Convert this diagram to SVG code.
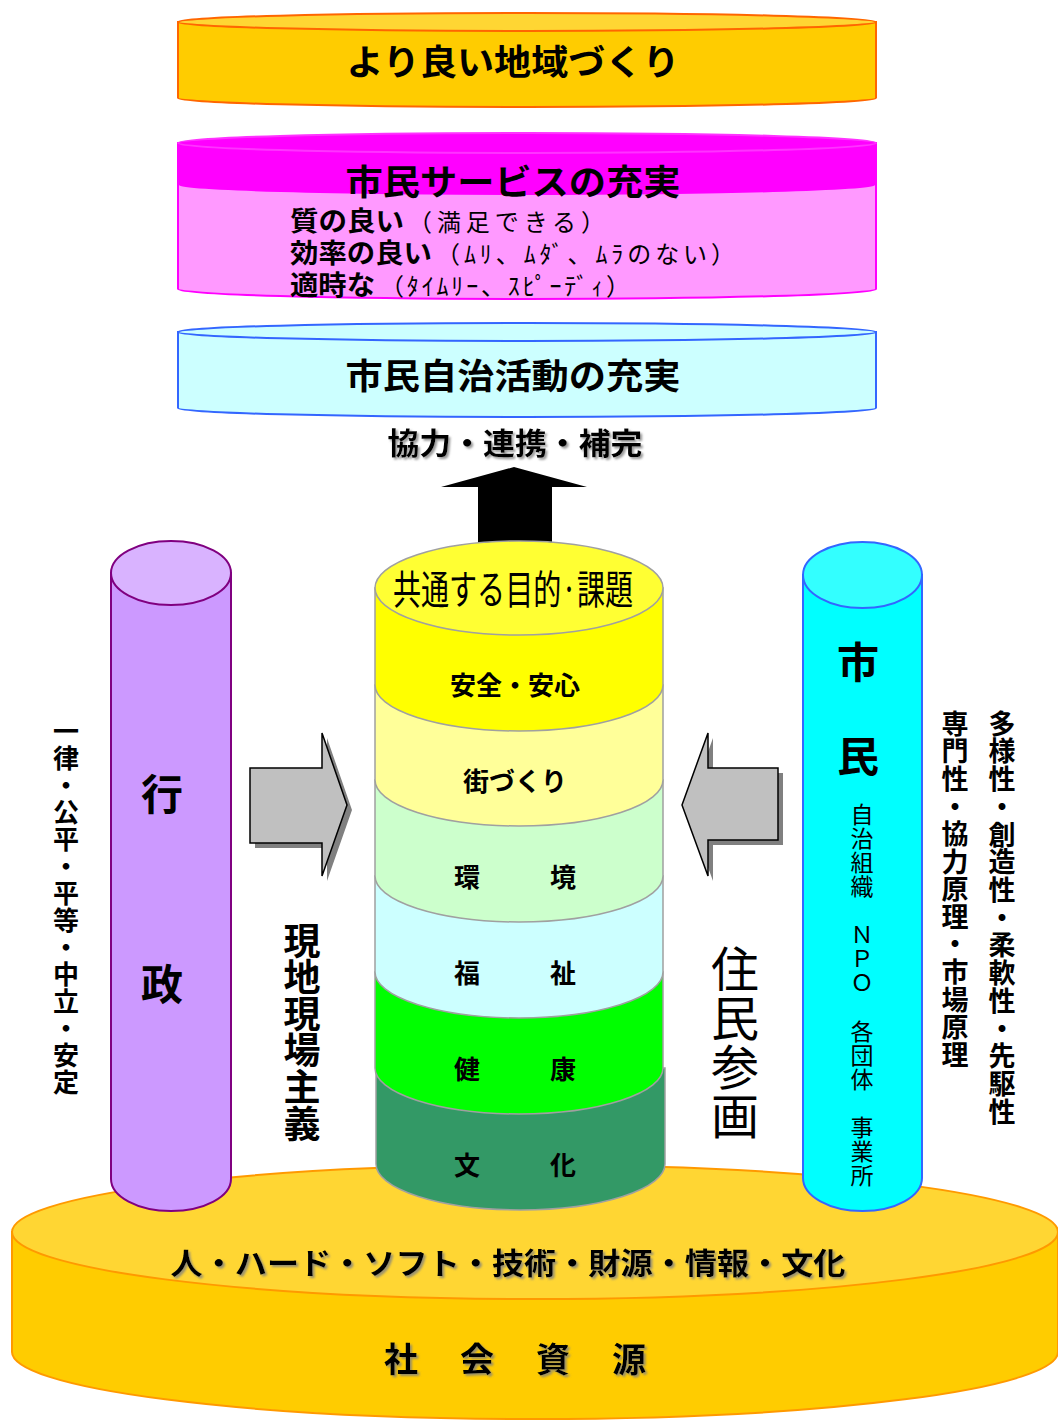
<svg xmlns="http://www.w3.org/2000/svg" width="1058" height="1421" viewBox="0 0 1058 1421">
<defs>
<filter id="sh" x="-10%" y="-10%" width="130%" height="140%">
<feDropShadow dx="2" dy="2" stdDeviation="0.8" flood-color="#808080" flood-opacity="0.8"/>
</filter>
</defs>
<style>
text{font-family:"Noto Sans CJK JP","Noto Sans",sans-serif;fill:#000}
.b{font-weight:bold}
.c{text-anchor:middle}
.v{writing-mode:vertical-rl;text-anchor:start}
.arw{fill:#C0C0C0;stroke:#000;stroke-width:1.5;stroke-linejoin:miter}
.arsh{fill:#808080}
.seg{stroke:#A0A0A0;stroke-width:1.5}
</style>
<rect width="1058" height="1421" fill="#fff"/>

<g id="base">
<path d="M12,1232 L12,1352 A523,67 0 0 0 1058,1352 L1058,1232 Z" fill="#FFCC00" stroke="#FF9900" stroke-width="2"/>
<ellipse cx="535" cy="1232" rx="523" ry="67" fill="#FFD633" stroke="#FF9900" stroke-width="2"/>
<text class="b c" x="508" y="1274" font-size="30" textLength="675" lengthAdjust="spacingAndGlyphs" filter="url(#sh)">人・ハード・ソフト・技術・財源・情報・文化</text>
<text class="b c" x="515" y="1372" font-size="34" textLength="262" lengthAdjust="spacing" filter="url(#sh)">社　会　資　源</text>
</g>

<g id="connectors">
<polygon points="514,467 587,487 552,487 552,550 478,550 478,487 441,487" fill="#000"/>
<polygon class="arsh" points="255,773 327,773 327,738 352,810 327,881 327,848 255,848"/>
<polygon class="arw" points="250,768 322,768 322,733 347,805 322,876 322,843 250,843"/>
<polygon class="arsh" points="783,773 713,773 713,738 687,810 713,881 713,845 783,845"/>
<polygon class="arw" points="778,768 708,768 708,733 682,805 708,876 708,840 778,840"/>
</g>

<g id="top-goal">
<path d="M178,22 L178,98 A349,9 0 0 0 876,98 L876,22 Z" fill="#FFCC00" stroke="#FF6600" stroke-width="2"/>
<ellipse cx="527" cy="22" rx="349" ry="9" fill="#FFD633" stroke="#FF6600" stroke-width="2"/>
<text class="b c" x="513" y="75" font-size="35" textLength="333" lengthAdjust="spacingAndGlyphs">より良い地域づくり</text>
</g>

<g id="service">
<path d="M178,143 L178,289 A349,10 0 0 0 876,289 L876,143 Z" fill="#FF99FF" stroke="#FF00FF" stroke-width="2"/>
<path d="M179,143 L179,185 A348,10 0 0 0 875,185 L875,143 Z" fill="#FF00FF"/>
<ellipse cx="527" cy="143" rx="349" ry="10" fill="#FF00FF" stroke="#FF33FF" stroke-width="2"/>
<text class="b c" x="513" y="195" font-size="35" textLength="335" lengthAdjust="spacingAndGlyphs">市民サービスの充実</text>
<text x="290" y="231" font-size="24"><tspan class="b" font-size="27" textLength="114" lengthAdjust="spacingAndGlyphs">質の良い</tspan><tspan x="408" textLength="197" lengthAdjust="spacing">（満足できる）</tspan></text>
<text x="290" y="263" font-size="24"><tspan class="b" font-size="27" textLength="142" lengthAdjust="spacingAndGlyphs">効率の良い</tspan><tspan x="436" textLength="299" lengthAdjust="spacing">（ﾑﾘ、ﾑﾀﾞ、ﾑﾗのない）</tspan></text>
<text x="290" y="295" font-size="24"><tspan class="b" font-size="27" textLength="85" lengthAdjust="spacingAndGlyphs">適時な</tspan><tspan x="380" textLength="250" lengthAdjust="spacing">（ﾀｲﾑﾘｰ、ｽﾋﾟｰﾃﾞｨ）</tspan></text>
</g>

<g id="self-gov">
<path d="M178,332 L178,408 A349,9 0 0 0 876,408 L876,332 Z" fill="#CCFFFF" stroke="#3366FF" stroke-width="2"/>
<ellipse cx="527" cy="332" rx="349" ry="9" fill="#CCFFFF" stroke="#3366FF" stroke-width="2"/>
<text class="b c" x="513" y="389" font-size="35" textLength="335" lengthAdjust="spacingAndGlyphs">市民自治活動の充実</text>
</g>

<g id="cooperation">
<text class="b c" x="515" y="454" font-size="30" textLength="255" lengthAdjust="spacingAndGlyphs" filter="url(#sh)">協力・連携・補完</text>
</g>

<g id="gyosei">
<path d="M111,573 L111,1179 A60,32 0 0 0 231,1179 L231,573 Z" fill="#CC99FF" stroke="#800080" stroke-width="2"/>
<ellipse cx="171" cy="573" rx="60" ry="32" fill="#D9B3FF" stroke="#800080" stroke-width="2"/>
<text class="b c" x="162" y="810" font-size="42">行</text>
<text class="b c" x="162" y="1000" font-size="42">政</text>
</g>
<g id="gyosei-traits">
<text class="b v" x="66" y="718" font-size="26" textLength="377" lengthAdjust="spacing">一律・公平・平等・中立・安定</text>
</g>
<g id="genchi">
<text class="b v" x="302" y="922" font-size="37" textLength="220" lengthAdjust="spacing">現地現場主義</text>
</g>

<g id="shimin">
<path d="M803,575 L803,1178 A59.5,33 0 0 0 922,1178 L922,575 Z" fill="#00FFFF" stroke="#3366FF" stroke-width="2"/>
<ellipse cx="862.5" cy="575" rx="59.5" ry="33" fill="#33FFFF" stroke="#3366FF" stroke-width="2"/>
<text class="b c" x="858" y="678" font-size="42">市</text>
<text class="b c" x="858" y="772" font-size="42">民</text>
<text class="v" x="862" y="803" font-size="23" textLength="384" lengthAdjust="spacing">自治組織　ＮＰＯ　各団体　事業所</text>
</g>
<g id="shimin-traits">
<text class="b v" x="955" y="710" font-size="27" textLength="358" lengthAdjust="spacing">専門性・協力原理・市場原理</text>
<text class="b v" x="1002" y="710" font-size="27" textLength="415" lengthAdjust="spacing">多様性・創造性・柔軟性・先駆性</text>
</g>
<g id="jumin">
<text class="v" x="735" y="945" font-size="48" textLength="195" lengthAdjust="spacing">住民参画</text>
</g>

<g id="stack">
<path class="seg" d="M376,1068 L376,1164 A144.5,46 0 0 0 665,1164 L665,1068 Z" fill="#339966"/>
<path class="seg" d="M375,972 L375,1068 A144,46 0 0 0 663,1068 L663,972 Z" fill="#00FF00"/>
<path class="seg" d="M375,876 L375,972 A144,46 0 0 0 663,972 L663,876 Z" fill="#CCFFFF"/>
<path class="seg" d="M375,780 L375,876 A144,46 0 0 0 663,876 L663,780 Z" fill="#CCFFCC"/>
<path class="seg" d="M375,685 L375,780 A144,46 0 0 0 663,780 L663,685 Z" fill="#FFFF99"/>
<path class="seg" d="M375,588 L375,685 A144,46 0 0 0 663,685 L663,588 Z" fill="#FFFF00"/>
<ellipse class="seg" cx="519" cy="588" rx="144" ry="47" fill="#FFFF33"/>
<text class="c" x="513" y="604" font-size="40" textLength="240" lengthAdjust="spacingAndGlyphs">共通する目的·課題</text>
<text class="b c" x="515" y="695" font-size="26">安全・安心</text>
<text class="b c" x="515" y="791" font-size="26">街づくり</text>
<text class="b c" y="887" font-size="26"><tspan x="467">環</tspan><tspan x="563">境</tspan></text>
<text class="b c" y="983" font-size="26"><tspan x="467">福</tspan><tspan x="563">祉</tspan></text>
<text class="b c" y="1079" font-size="26"><tspan x="467">健</tspan><tspan x="563">康</tspan></text>
<text class="b c" y="1175" font-size="26"><tspan x="467">文</tspan><tspan x="563">化</tspan></text>
</g>
</svg>
